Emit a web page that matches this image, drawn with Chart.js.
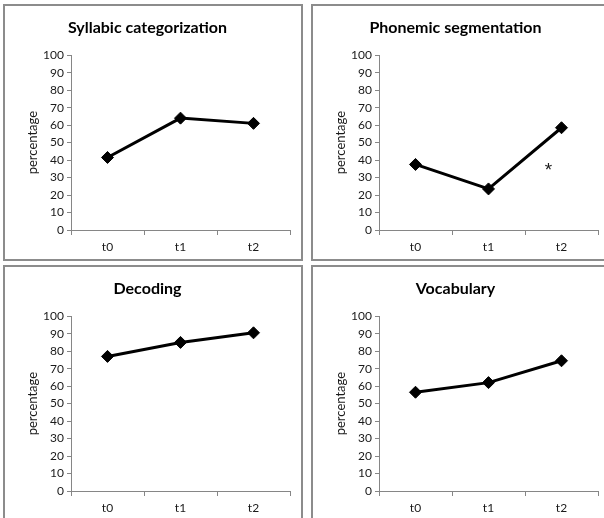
<!DOCTYPE html>
<html>
<head>
<meta charset="utf-8">
<script src="https://cdn.jsdelivr.net/npm/chart.js@4.4.0/dist/chart.umd.min.js"></script>
<style>
  html, body { margin: 0; padding: 0; background: #fff; width: 604px; height: 518px; overflow: hidden; }
  .panel { position: absolute; width: 296px; height: 253px; border: 2px solid #8c8c8c; background: #fff; }
  canvas { display: block; }
</style>
</head>
<body>
<div class="panel" style="left:3px;top:4px"><canvas id="c0" width="296" height="253"></canvas></div>
<div class="panel" style="left:311px;top:4px"><canvas id="c1" width="296" height="253"></canvas></div>
<div class="panel" style="left:3px;top:265px"><canvas id="c2" width="296" height="253"></canvas></div>
<div class="panel" style="left:311px;top:265px"><canvas id="c3" width="296" height="253"></canvas></div>
<script>
// data
const timePoints = ['t0', 't1', 't2'];
const percentTicks = [0, 10, 20, 30, 40, 50, 60, 70, 80, 90, 100];
const panelTitles = ['Syllabic categorization', 'Phonemic segmentation', 'Decoding', 'Vocabulary'];
const syllabicValues = [41.5, 64, 61];
const phonemicValues = [37.5, 23.5, 58.5];
const decodingValues = [77, 85, 90.5];
const vocabularyValues = [56.5, 62, 74.5];
// significance mark in the phonemic panel: [category, value, text]
const phonemicStar = ['t2', 37, '*'];

const FONT = 'Lato';
const AXIS = '#868686';
const TEXT = '#1a1a1a';

const notePlugin = {
  id: 'note',
  afterDatasetsDraw(chart, args, opts) {
    if (!opts.mark) return;
    const [cat, value, text] = opts.mark;
    const { ctx, scales } = chart;
    const x = scales.x.getPixelForValue(timePoints.indexOf(cat)) - 13;
    const y = scales.y.getPixelForValue(value);
    ctx.save();
    ctx.font = '19px "Liberation Sans"';
    ctx.fillStyle = TEXT;
    ctx.textAlign = 'center';
    ctx.textBaseline = 'middle';
    ctx.fillText(text, x, y + 5);
    ctx.restore();
  }
};

function makeChart(id, title, values, mark) {
  return new Chart(document.getElementById(id), {
    type: 'line',
    data: {
      labels: timePoints,
      datasets: [{
        data: values,
        borderColor: '#000',
        borderWidth: 3,
        pointStyle: 'rectRot',
        pointRadius: 6,
        pointBackgroundColor: '#000',
        pointBorderColor: '#000',
        pointBorderWidth: 1,
        tension: 0,
        clip: false
      }]
    },
    options: {
      responsive: false,
      animation: false,
      layout: { padding: { left: 0, right: 11, top: 0, bottom: 0 } },
      plugins: {
        legend: { display: false },
        tooltip: { enabled: false },
        title: {
          display: true,
          text: title,
          color: '#000',
          font: { family: FONT, size: 16, weight: 'bold' },
          padding: { top: 12, bottom: 18 }
        },
        note: { mark: mark }
      },
      scales: {
        x: {
          offset: true,
          afterFit: s => { s.height = 29; },
          border: { color: AXIS },
          grid: { offset: true, drawOnChartArea: false, tickLength: 5, color: AXIS },
          ticks: { font: { family: FONT, size: 12 }, color: TEXT, padding: 5 }
        },
        y: {
          min: 0,
          max: 100,
          afterBuildTicks: s => { s.ticks = percentTicks.map(v => ({ value: v })); },
          afterFit: s => { s.width = 66; },
          border: { color: AXIS },
          grid: { drawOnChartArea: false, tickLength: 4, color: AXIS },
          ticks: { font: { family: FONT, size: 12 }, color: TEXT, padding: 3, autoSkip: false },
          title: {
            display: true,
            text: 'percentage',
            color: TEXT,
            font: { family: FONT, size: 13 },
            padding: { top: 20, bottom: 0 }
          }
        }
      }
    },
    plugins: [notePlugin]
  });
}

Promise.all([
  document.fonts.load('bold 16px Lato'),
  document.fonts.load('12px Lato')
]).catch(() => {}).then(() => {
  makeChart('c0', panelTitles[0], syllabicValues);
  makeChart('c1', panelTitles[1], phonemicValues, phonemicStar);
  makeChart('c2', panelTitles[2], decodingValues);
  makeChart('c3', panelTitles[3], vocabularyValues);
});
</script>
</body>
</html>
